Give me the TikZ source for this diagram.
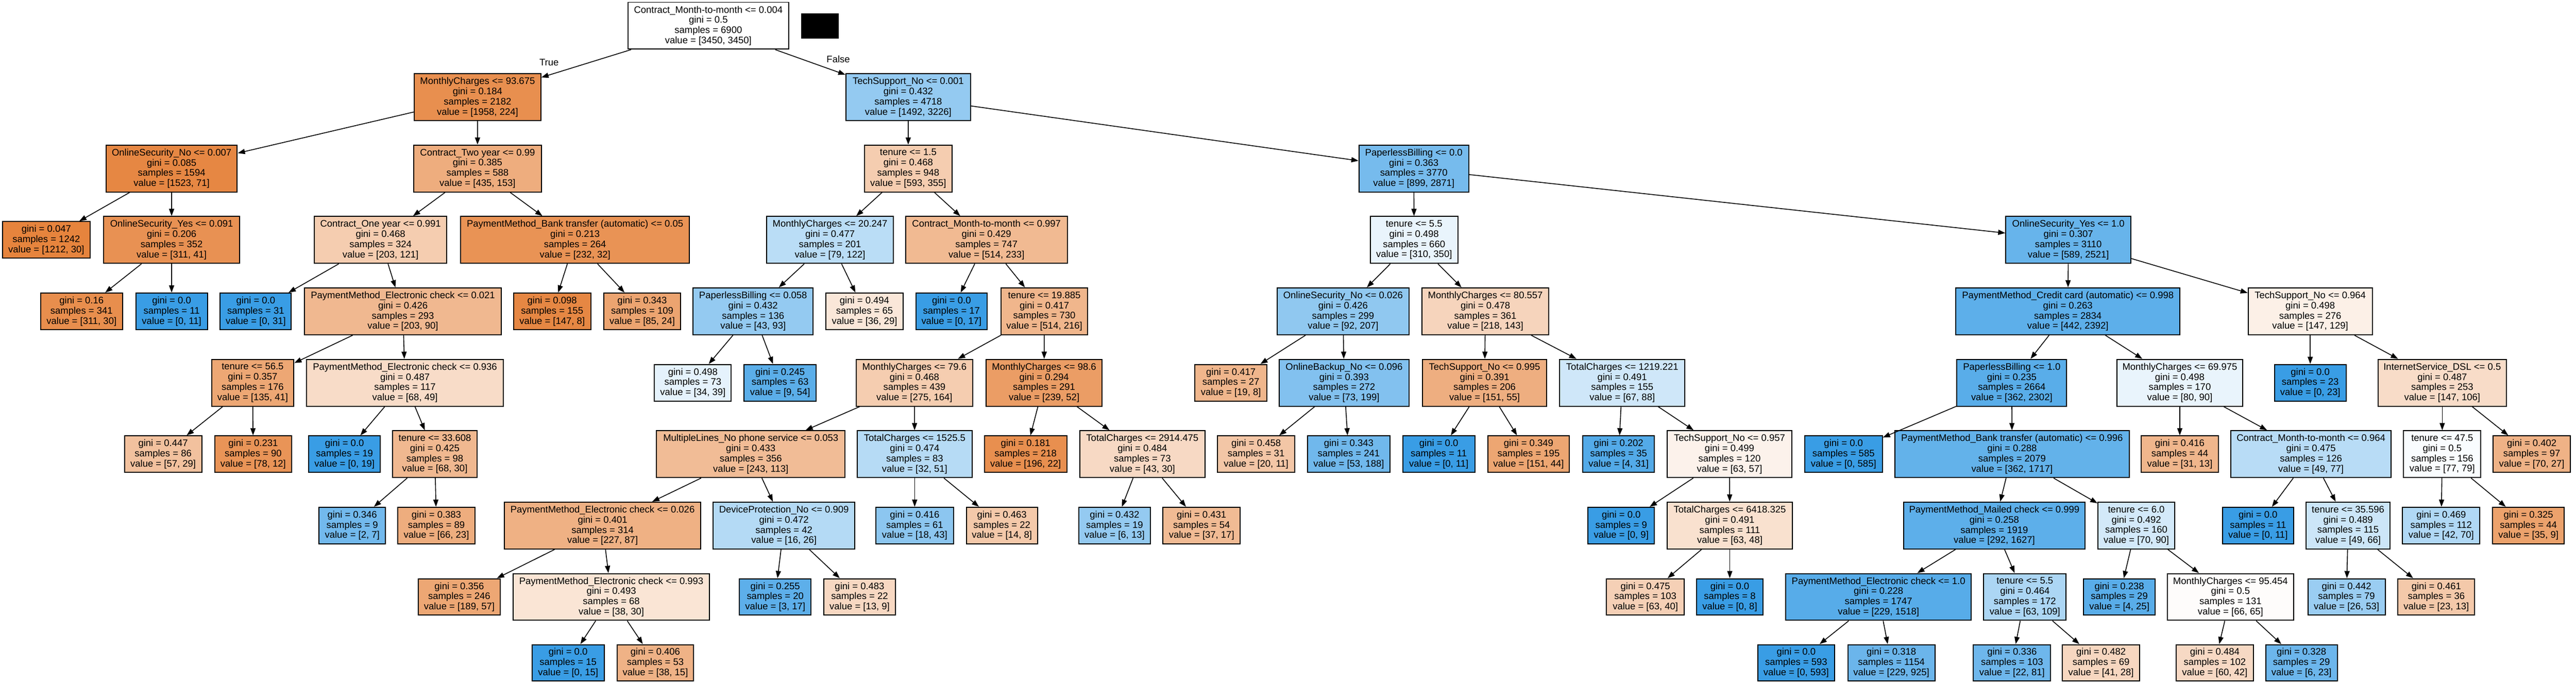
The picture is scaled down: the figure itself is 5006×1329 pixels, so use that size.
\documentclass[tikz,border=0pt]{standalone}
\usepackage{fontspec}
\setmainfont{Liberation Sans}
\usetikzlibrary{arrows.meta}
\definecolor{clsA}{RGB}{229,129,57}
\definecolor{clsB}{RGB}{57,157,229}
\tikzset{
  treebox/.style={draw=black, line width=1pt, rectangle, inner sep=0pt, align=center, font=\fontsize{9.25}{9.9}\selectfont},
  treeedge/.style={line width=0.8pt, -{Triangle[length=7pt,width=5pt]}},
  elabel/.style={font=\fontsize{9.25}{9.9}\selectfont, inner sep=0pt},
}
% #1 name, #2 left px, #3 right px, #4 row, #5 split (empty = leaf), #6 gini, #7 samples, #8 v0, #9 v1
\newcommand{\tn}[9]{%
  \pgfmathsetmacro\ry{#4==9 ? 1288.5 : 50+138.8*#4}%
  \ifnum#8<#9\relax
    \pgfmathtruncatemacro\aval{round(100*(1-#8/#9))}\def\basec{clsB}%
  \else
    \pgfmathtruncatemacro\aval{round(100*(1-#9/#8))}\def\basec{clsA}%
  \fi
  \if\relax\detokenize{#5}\relax
    \node[treebox, fill=\basec!\aval!white, minimum width={(#3-#2)*0.5pt}, minimum height=35.5pt] (#1) at ({(#2+#3)/2},\ry) {gini = #6\\samples = #7\\value = [#8, #9]};%
  \else
    \node[treebox, fill=\basec!\aval!white, minimum width={(#3-#2)*0.5pt}, minimum height=45.5pt] (#1) at ({(#2+#3)/2},\ry) {#5\\gini = #6\\samples = #7\\value = [#8, #9]};%
  \fi
}
\begin{document}
\begin{tikzpicture}[x=0.5pt,y=-0.5pt]
\fill[white] (0,0) rectangle (5006,1329);
\useasboundingbox (0,0) rectangle (5006,1329);
% row 0
\tn{n0}{1220}{1533}{0}{Contract\_Month-to-month <= 0.004}{0.5}{6900}{3450}{3450}
\node[fill=black, inner sep=0pt, minimum width=36.5pt, minimum height=24.5pt] (redact) at (1593.5,50.5) {};
% row 1
\tn{n1}{805}{1051}{1}{MonthlyCharges <= 93.675}{0.184}{2182}{1958}{224}
\tn{n2}{1644}{1886}{1}{TechSupport\_No <= 0.001}{0.432}{4718}{1492}{3226}
% row 2
\tn{n3}{206}{461}{2}{OnlineSecurity\_No <= 0.007}{0.085}{1594}{1523}{71}
\tn{n4}{804}{1052}{2}{Contract\_Two year <= 0.99}{0.385}{588}{435}{153}
\tn{n5}{1680}{1850}{2}{tenure <= 1.5}{0.468}{948}{593}{355}
\tn{n6}{2641}{2854}{2}{PaperlessBilling <= 0.0}{0.363}{3770}{899}{2871}
% row 3
\tn{n7}{5}{175}{3}{}{0.047}{1242}{1212}{30}
\tn{n8}{201}{466}{3}{OnlineSecurity\_Yes <= 0.091}{0.206}{352}{311}{41}
\tn{n9}{611}{868}{3}{Contract\_One year <= 0.991}{0.468}{324}{203}{121}
\tn{n10}{895}{1340}{3}{PaymentMethod\_Bank transfer (automatic) <= 0.05}{0.213}{264}{232}{32}
\tn{n11}{1490}{1736}{3}{MonthlyCharges <= 20.247}{0.477}{201}{79}{122}
\tn{n12}{1760}{2074}{3}{Contract\_Month-to-month <= 0.997}{0.429}{747}{514}{233}
\tn{n13}{2663}{2833}{3}{tenure <= 5.5}{0.498}{660}{310}{350}
\tn{n14}{3898}{4141}{3}{OnlineSecurity\_Yes <= 1.0}{0.307}{3110}{589}{2521}
% row 4
\tn{n15}{79}{238}{4}{}{0.16}{341}{311}{30}
\tn{n16}{264}{403}{4}{}{0.0}{11}{0}{11}
\tn{n17}{428}{566}{4}{}{0.0}{31}{0}{31}
\tn{n18}{592}{974}{4}{PaymentMethod\_Electronic check <= 0.021}{0.426}{293}{203}{90}
\tn{n19}{998}{1148}{4}{}{0.098}{155}{147}{8}
\tn{n20}{1173}{1323}{4}{}{0.343}{109}{85}{24}
\tn{n21}{1347}{1580}{4}{PaperlessBilling <= 0.058}{0.432}{136}{43}{93}
\tn{n22}{1605}{1755}{4}{}{0.494}{65}{36}{29}
\tn{n23}{1780}{1918}{4}{}{0.0}{17}{0}{17}
\tn{n24}{1945}{2114}{4}{tenure <= 19.885}{0.417}{730}{514}{216}
\tn{n25}{2482}{2738}{4}{OnlineSecurity\_No <= 0.026}{0.426}{299}{92}{207}
\tn{n26}{2763}{3010}{4}{MonthlyCharges <= 80.557}{0.478}{361}{218}{143}
\tn{n27}{3801}{4236}{4}{PaymentMethod\_Credit card (automatic) <= 0.998}{0.263}{2834}{442}{2392}
\tn{n28}{4369}{4610}{4}{TechSupport\_No <= 0.964}{0.498}{276}{147}{129}
% row 5
\tn{n29}{411}{571}{5}{tenure <= 56.5}{0.357}{176}{135}{41}
\tn{n30}{596}{978}{5}{PaymentMethod\_Electronic check <= 0.936}{0.487}{117}{68}{49}
\tn{n31}{1272}{1421}{5}{}{0.498}{73}{34}{39}
\tn{n32}{1446}{1586}{5}{}{0.245}{63}{9}{54}
\tn{n33}{1664}{1890}{5}{MonthlyCharges <= 79.6}{0.468}{439}{275}{164}
\tn{n34}{1916}{2142}{5}{MonthlyCharges <= 98.6}{0.294}{291}{239}{52}
\tn{n35}{2322}{2462}{5}{}{0.417}{27}{19}{8}
\tn{n36}{2486}{2738}{5}{OnlineBackup\_No <= 0.096}{0.393}{272}{73}{199}
\tn{n37}{2764}{3006}{5}{TechSupport\_No <= 0.995}{0.391}{206}{151}{55}
\tn{n38}{3031}{3274}{5}{TotalCharges <= 1219.221}{0.491}{155}{67}{88}
\tn{n39}{3803}{4016}{5}{PaperlessBilling <= 1.0}{0.235}{2664}{362}{2302}
\tn{n40}{4114}{4358}{5}{MonthlyCharges <= 69.975}{0.498}{170}{80}{90}
\tn{n41}{4420}{4559}{5}{}{0.0}{23}{0}{23}
\tn{n42}{4621}{4871}{5}{InternetService\_DSL <= 0.5}{0.487}{253}{147}{106}
% row 6
\tn{n43}{242}{392}{6}{}{0.447}{86}{57}{29}
\tn{n44}{417}{567}{6}{}{0.231}{90}{78}{12}
\tn{n45}{600}{739}{6}{}{0.0}{19}{0}{19}
\tn{n46}{763}{927}{6}{tenure <= 33.608}{0.425}{98}{68}{30}
\tn{n47}{1276}{1642}{6}{MultipleLines\_No phone service <= 0.053}{0.433}{356}{243}{113}
\tn{n48}{1666}{1889}{6}{TotalCharges <= 1525.5}{0.474}{83}{32}{51}
\tn{n49}{1913}{2073}{6}{}{0.181}{218}{196}{22}
\tn{n50}{2098}{2342}{6}{TotalCharges <= 2914.475}{0.484}{73}{43}{30}
\tn{n51}{2366}{2516}{6}{}{0.458}{31}{20}{11}
\tn{n52}{2541}{2701}{6}{}{0.343}{241}{53}{188}
\tn{n53}{2726}{2866}{6}{}{0.0}{11}{0}{11}
\tn{n54}{2891}{3050}{6}{}{0.349}{195}{151}{44}
\tn{n55}{3076}{3215}{6}{}{0.202}{35}{4}{31}
\tn{n56}{3240}{3482}{6}{TechSupport\_No <= 0.957}{0.499}{120}{63}{57}
\tn{n57}{3507}{3658}{6}{}{0.0}{585}{0}{585}
\tn{n58}{3682}{4138}{6}{PaymentMethod\_Bank transfer (automatic) <= 0.996}{0.288}{2079}{362}{1717}
\tn{n59}{4161}{4311}{6}{}{0.416}{44}{31}{13}
\tn{n60}{4335}{4647}{6}{Contract\_Month-to-month <= 0.964}{0.475}{126}{49}{77}
\tn{n61}{4671}{4821}{6}{tenure <= 47.5}{0.5}{156}{77}{79}
\tn{n62}{4845}{4995}{6}{}{0.402}{97}{70}{27}
% row 7
\tn{n63}{620}{749}{7}{}{0.346}{9}{2}{7}
\tn{n64}{773}{923}{7}{}{0.383}{89}{66}{23}
\tn{n65}{980}{1362}{7}{PaymentMethod\_Electronic check <= 0.026}{0.401}{314}{227}{87}
\tn{n66}{1386}{1661}{7}{DeviceProtection\_No <= 0.909}{0.472}{42}{16}{26}
\tn{n67}{1702}{1853}{7}{}{0.416}{61}{18}{43}
\tn{n68}{1878}{2016}{7}{}{0.463}{22}{14}{8}
\tn{n69}{2096}{2236}{7}{}{0.432}{19}{6}{13}
\tn{n70}{2260}{2410}{7}{}{0.431}{54}{37}{17}
\tn{n71}{3086}{3215}{7}{}{0.0}{9}{0}{9}
\tn{n72}{3240}{3483}{7}{TotalCharges <= 6418.325}{0.491}{111}{63}{48}
\tn{n73}{3699}{4052}{7}{PaymentMethod\_Mailed check <= 0.999}{0.258}{1919}{292}{1627}
\tn{n74}{4077}{4226}{7}{tenure <= 6.0}{0.492}{160}{70}{90}
\tn{n75}{4319}{4457}{7}{}{0.0}{11}{0}{11}
\tn{n76}{4481}{4645}{7}{tenure <= 35.596}{0.489}{115}{49}{66}
\tn{n77}{4669}{4819}{7}{}{0.469}{112}{42}{70}
\tn{n78}{4844}{4983}{7}{}{0.325}{44}{35}{9}
% row 8
\tn{n79}{813}{972}{8}{}{0.356}{246}{189}{57}
\tn{n80}{997}{1379}{8}{PaymentMethod\_Electronic check <= 0.993}{0.493}{68}{38}{30}
\tn{n81}{1437}{1576}{8}{}{0.255}{20}{3}{17}
\tn{n82}{1601}{1740}{8}{}{0.483}{22}{13}{9}
\tn{n83}{3122}{3273}{8}{}{0.475}{103}{63}{40}
\tn{n84}{3297}{3426}{8}{}{0.0}{8}{0}{8}
\tn{n85}{3470}{3831}{8}{PaymentMethod\_Electronic check <= 1.0}{0.228}{1747}{229}{1518}
\tn{n86}{3855}{4015}{8}{tenure <= 5.5}{0.464}{172}{63}{109}
\tn{n87}{4049}{4188}{8}{}{0.238}{29}{4}{25}
\tn{n88}{4212}{4457}{8}{MonthlyCharges <= 95.454}{0.5}{131}{66}{65}
\tn{n89}{4485}{4635}{8}{}{0.442}{79}{26}{53}
\tn{n90}{4660}{4809}{8}{}{0.461}{36}{23}{13}
% row 9
\tn{n91}{1034}{1174}{9}{}{0.0}{15}{0}{15}
\tn{n92}{1199}{1348}{9}{}{0.406}{53}{38}{15}
\tn{n93}{3416}{3565}{9}{}{0.0}{593}{0}{593}
\tn{n94}{3591}{3760}{9}{}{0.318}{1154}{229}{925}
\tn{n95}{3835}{3985}{9}{}{0.336}{103}{22}{81}
\tn{n96}{4008}{4158}{9}{}{0.482}{69}{41}{28}
\tn{n97}{4229}{4379}{9}{}{0.484}{102}{60}{42}
\tn{n98}{4403}{4542}{9}{}{0.328}{29}{6}{23}
% edges
\foreach \a/\b in {n0/n1,n0/n2,n1/n3,n1/n4,n2/n5,n2/n6,n3/n7,n3/n8,n4/n9,n4/n10,
  n5/n11,n5/n12,n6/n13,n6/n14,n8/n15,n8/n16,n9/n17,n9/n18,n10/n19,n10/n20,
  n11/n21,n11/n22,n12/n23,n12/n24,n13/n25,n13/n26,n14/n27,n14/n28,
  n18/n29,n18/n30,n21/n31,n21/n32,n24/n33,n24/n34,n25/n35,n25/n36,n26/n37,n26/n38,
  n27/n39,n27/n40,n28/n41,n28/n42,n29/n43,n29/n44,n30/n45,n30/n46,n33/n47,n33/n48,
  n34/n49,n34/n50,n36/n51,n36/n52,n37/n53,n37/n54,n38/n55,n38/n56,n39/n57,n39/n58,
  n40/n59,n40/n60,n42/n61,n42/n62,n46/n63,n46/n64,n47/n65,n47/n66,n48/n67,n48/n68,
  n50/n69,n50/n70,n56/n71,n56/n72,n58/n73,n58/n74,n60/n75,n60/n76,n61/n77,n61/n78,
  n65/n79,n65/n80,n66/n81,n66/n82,n72/n83,n72/n84,n73/n85,n73/n86,n74/n87,n74/n88,
  n76/n89,n76/n90,n80/n91,n80/n92,n85/n93,n85/n94,n86/n95,n86/n96,n88/n97,n88/n98}
  \draw[treeedge] (\a) -- (\b);
\node[elabel] (lblTrue) at (1067,121) {True};
\node[elabel] (lblFalse) at (1629,115) {False};
\end{tikzpicture}
\end{document}
